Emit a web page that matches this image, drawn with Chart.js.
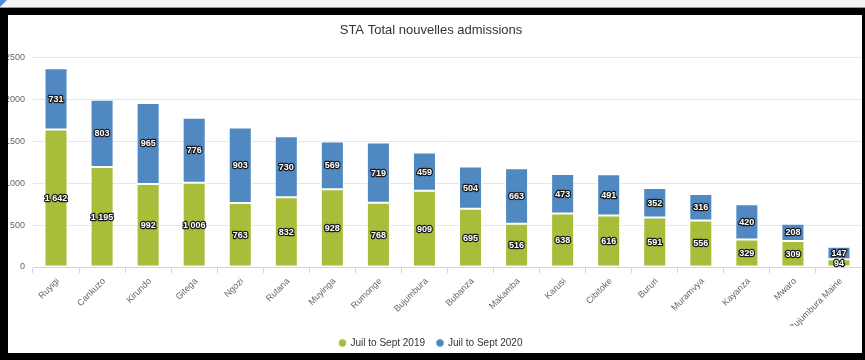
<!DOCTYPE html>
<html>
<head>
<meta charset="utf-8">
<title>STA Total nouvelles admissions</title>
<script src="https://cdn.jsdelivr.net/npm/chart.js@4.4.1/dist/chart.umd.min.js"></script>
<style>
    html, body { margin: 0; padding: 0; background: #ffffff; }
    #wrap { position: relative; width: 865px; height: 360px; overflow: hidden; background: #ffffff; }
    #admissionsChart { position: absolute; left: 0; top: 0; }
    .edge { position: absolute; background: #000000; }
    #topStrip { position: absolute; left: 0; top: 0; width: 865px; height: 7px; background: #f4f4f4; border-bottom: 1px solid #9a9a9a; }
    #corner { position: absolute; left: 0; top: 0; width: 0; height: 0; border-top: 7px solid #4a8fd6; border-right: 7px solid transparent; }
</style>
</head>
<body>
<div id="wrap">
    <canvas id="admissionsChart" width="865" height="360"></canvas>
    <div id="topStrip"></div>
    <div id="corner"></div>
    <div class="edge" style="left:0; top:8px; width:865px; height:7px;"></div>
    <div class="edge" style="left:0; top:8px; width:8px; height:352px;"></div>
    <div class="edge" style="left:862px; top:8px; width:3px; height:352px;"></div>
    <div class="edge" style="left:0; top:353px; width:865px; height:7px;"></div>
</div>
<script>
// Provinces, sorted by total admissions
const regions = ['Ruyigi', 'Cankuzo', 'Kirundo', 'Gitega', 'Ngozi', 'Rutana', 'Muyinga', 'Rumonge',
    'Bujumbura', 'Bubanza', 'Makamba', 'Karusi', 'Cibitoke', 'Bururi', 'Muramvya', 'Kayanza',
    'Mwaro', 'Bujumbura Mairie'];

const admissions2019 = [1642, 1195, 992, 1006, 763, 832, 928, 768, 909, 695, 516, 638, 616, 591, 556, 329, 309, 94];
const admissions2020 = [731, 803, 965, 776, 903, 730, 569, 719, 459, 504, 663, 473, 491, 352, 316, 420, 208, 147];

const seriesNames = ['Juil to Sept 2019', 'Juil to Sept 2020'];
const yMax = 2500;
const yStep = 500;

const green = '#a8be3a';
const blue = '#5088c1';
const baseFont = "'Liberation Sans', Arial, sans-serif";

// "1642" -> "1 642"
function spaced(v) {
    return String(v).replace(/\B(?=(\d{3})+(?!\d))/g, ' ');
}

// white value labels with a dark outline, centred in each stacked segment
const segmentLabels = {
    id: 'segmentLabels',
    afterDatasetsDraw(chart) {
        const ctx = chart.ctx;
        ctx.save();
        ctx.font = 'bold 9px ' + baseFont;
        ctx.textAlign = 'center';
        ctx.textBaseline = 'middle';
        ctx.lineJoin = 'round';
        chart.data.datasets.forEach((ds, di) => {
            const meta = chart.getDatasetMeta(di);
            meta.data.forEach((bar, i) => {
                const y = (bar.y + bar.base) / 2;
                const text = spaced(ds.data[i]);
                ctx.lineWidth = 2.5;
                ctx.strokeStyle = '#1a1a1a';
                ctx.strokeText(text, bar.x, y + 0.5);
                ctx.fillStyle = '#ffffff';
                ctx.fillText(text, bar.x, y + 0.5);
            });
        });
        ctx.restore();
    }
};

const chart = new Chart(document.getElementById('admissionsChart'), {
    type: 'bar',
    data: {
        labels: regions,
        datasets: [{
            label: seriesNames[0],
            data: admissions2019,
            backgroundColor: green,
            borderColor: '#ffffff',
            borderWidth: 1,
            borderSkipped: false,
            categoryPercentage: 0.5,
            barPercentage: 1,
        }, {
            label: seriesNames[1],
            data: admissions2020,
            backgroundColor: blue,
            borderColor: '#ffffff',
            borderWidth: 1,
            borderSkipped: false,
            categoryPercentage: 0.5,
            barPercentage: 1,
        }]
    },
    options: {
        responsive: false,
        animation: false,
        events: [],
        layout: {
            padding: { left: 0, right: 3, top: 0, bottom: 2 },
        },
        plugins: {
            title: {
                display: true,
                text: 'STA Total nouvelles admissions',
                color: '#333333',
                font: { family: baseFont, size: 13, weight: 'normal' },
                padding: { top: 23, bottom: 19 },
            },
            legend: {
                position: 'bottom',
                labels: {
                    usePointStyle: true,
                    pointStyle: 'circle',
                    boxHeight: 6,
                    boxWidth: 6,
                    padding: 12,
                    color: '#333333',
                    font: { family: baseFont, size: 10 },
                },
            },
            tooltip: { enabled: false },
        },
        scales: {
            x: {
                stacked: true,
                grid: {
                    display: true,
                    drawOnChartArea: false,
                    drawTicks: true,
                    tickLength: 6,
                    color: '#ccd6eb',
                },
                border: { display: true, color: '#ccd6eb' },
                ticks: {
                    minRotation: 45,
                    maxRotation: 45,
                    autoSkip: false,
                    color: '#666666',
                    font: { family: baseFont, size: 9 },
                    padding: 3,
                    labelOffset: 2,
                },
                afterFit(scale) {
                    scale.height = 59;
                },
            },
            y: {
                stacked: true,
                min: 0,
                max: yMax,
                grid: {
                    color: '#e6e6e6',
                    drawTicks: false,
                },
                border: { display: false },
                ticks: {
                    stepSize: yStep,
                    padding: 8,
                    color: '#666666',
                    font: { family: baseFont, size: 9 },
                    // plain numbers on the axis, no thousands separator
                    callback: (value) => String(value),
                },
                afterFit(scale) {
                    scale.width = 33;
                },
            },
        },
    },
    plugins: [segmentLabels],
});
</script>
</body>
</html>
